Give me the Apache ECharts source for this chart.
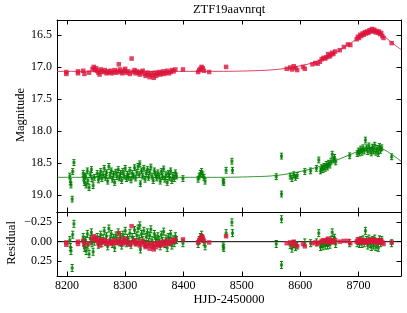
<!DOCTYPE html>
<html><head><meta charset="utf-8">
<script src="https://cdn.jsdelivr.net/npm/echarts@6/dist/echarts.min.js"></script>
<style>html,body{margin:0;padding:0;background:#fff}#c{width:407px;height:313px}</style>
</head><body><div id="c"></div>
<script>
// ---- data ----
const title = 'ZTF19aavnrqt';
const xName = 'HJD-2450000';
const yNameTop = 'Magnitude';
const yNameRes = 'Residual';
const xTicks = [8200, 8300, 8400, 8500, 8600, 8700];
const magTicks = [16.5, 17.0, 17.5, 18.0, 18.5, 19.0];
const resTicks = [-0.25, 0.00, 0.25];

// r band (red)
const rT = [8199,8199,8219,8219,8228,8230,8238,8244,8246,8248,8250,8252,8254,8256,8258,8260,8263,8265,8268,8270,8272,8275,8277,8280,8282,8285,8288,8289,8291,8293,8295,8298,8300,8302,8305,8308,8311,8313,8316,8318,8320,8323,8325,8328,8330,8333,8335,8338,8340,8342,8345,8347,8349,8351,8353,8355,8358,8360,8362,8365,8367,8370,8372,8375,8378,8380,8383,8386,8399,8425,8427,8429,8431,8433,8435,8444,8473,
  8577,8583,8586,8589,8592,8595,8605,8608,8621,8626,8630,8634,8637,8640,8643,8645,8648,8650,8652,8655,8657,8660,8668,8675,8682,8686,8697,8699,8701,8703,8705,8707,8709,8711,8713,8715,8717,8719,8721,8723,8725,8727,8729,8731,8733,8735,8737,8739,8741,8743,8757];
const rMag = [17.08,17.11,17.07,17.10,17.06,17.11,17.09,17.03,17.00,17.05,17.02,17.06,17.09,17.12,17.04,17.07,17.08,17.05,17.10,17.07,17.09,17.06,17.10,17.08,17.05,17.09,17.07,16.96,17.04,17.08,17.10,17.06,17.03,17.09,17.07,17.11,16.87,17.08,17.05,17.10,17.07,17.09,17.12,17.08,17.06,17.11,17.14,17.09,17.12,17.16,17.10,17.13,17.17,17.09,17.14,17.11,17.08,17.12,17.10,17.07,17.11,17.09,17.06,17.10,17.08,17.05,17.07,17.04,17.04,17.08,17.05,17.03,17.00,17.02,17.06,17.08,17.00,
  17.03,17.01,17.04,16.99,17.02,17.05,17.00,17.03,16.96,16.94,16.95,16.92,16.88,16.86,16.87,16.85,16.80,16.84,16.82,16.78,16.80,16.76,16.74,16.69,16.65,16.66,16.57,16.53,16.55,16.50,16.52,16.48,16.50,16.46,16.48,16.45,16.47,16.43,16.45,16.41,16.44,16.42,16.46,16.44,16.47,16.45,16.49,16.47,16.52,16.55,16.63];
const rRes = [0.01,0.04,0.00,0.03,-0.01,0.04,0.02,-0.04,-0.07,-0.02,-0.05,-0.01,0.02,0.05,-0.03,0.00,0.01,-0.02,0.03,0.00,0.02,-0.01,0.03,0.01,-0.02,0.02,0.00,-0.11,-0.03,0.01,0.03,-0.01,-0.04,0.02,0.00,0.04,-0.20,0.01,-0.02,0.03,0.00,0.02,0.05,0.01,-0.01,0.04,0.07,0.02,0.05,0.09,0.03,0.06,0.10,0.02,0.07,0.04,0.01,0.05,0.03,0.00,0.04,0.02,-0.01,0.03,0.01,-0.02,0.00,-0.03,-0.03,0.01,-0.02,-0.04,-0.07,-0.05,-0.01,0.01,-0.07,
  0.02,0.01,0.04,0.00,0.03,0.06,0.03,0.06,0.02,0.01,0.03,0.01,-0.01,-0.02,0.00,-0.01,-0.04,0.01,0.00,-0.02,0.01,-0.02,0.00,-0.01,-0.01,0.02,0.00,-0.03,0.01,-0.03,0.01,-0.02,0.01,-0.02,0.01,-0.01,0.01,-0.02,0.00,-0.03,0.00,-0.02,0.01,-0.01,0.01,-0.02,0.01,-0.02,0.01,0.03,0.01];

// g band (green)
const gT = [8205,8206,8207,8209,8210,8212,8228,8229,8230,8232,8233,8235,8236,8238,8240,8242,8243,8245,8247,8252,8254,8256,8258,8260,8262,8264,8266,8268,8270,8272,8274,8276,8278,8280,8282,8284,8286,8288,8290,8292,8294,8296,8298,8300,8302,8304,8306,8308,8310,8312,8314,8316,8318,8320,8322,8324,8325,8326,8328,8330,8332,8334,8336,8338,8340,8342,8344,8346,8348,8350,8352,8354,8356,8358,8360,8362,8364,8366,8368,8370,8372,8374,8376,8378,8380,8382,8384,8386,8388,8399,8425,8427,8429,8431,8433,8435,8437,8468,8469,8473,8483,8484,
  8559,8568,8568,8583,8586,8589,8592,8595,8608,8618,8628,8632,8635,8637,8639,8641,8643,8645,8647,8649,8651,8653,8655,8657,8659,8661,8685,8698,8700,8702,8704,8706,8708,8710,8712,8714,8716,8718,8720,8722,8724,8726,8728,8730,8732,8734,8736,8738,8740,8757];
const gMag = [18.70,18.79,18.84,19.06,18.63,18.49,18.66,18.73,18.80,18.70,18.84,18.62,18.77,18.88,18.68,18.60,18.74,18.85,18.72,18.66,18.76,18.70,18.63,18.74,18.68,18.58,18.72,18.65,18.78,18.55,18.69,18.62,18.75,18.67,18.80,18.64,18.71,18.60,18.73,18.66,18.77,18.63,18.70,18.58,18.74,18.67,18.72,18.61,18.76,18.66,18.70,18.57,18.73,18.64,18.55,18.68,18.51,18.82,18.62,18.70,18.58,18.75,18.66,18.60,18.72,18.64,18.56,18.70,18.77,18.62,18.68,18.73,18.65,18.70,18.78,18.63,18.71,18.59,18.75,18.68,18.80,18.66,18.72,18.62,18.77,18.69,18.74,18.65,18.70,18.74,18.75,18.70,18.66,18.63,18.68,18.72,18.78,18.78,18.80,18.61,18.47,18.61,
  18.71,18.39,18.98,18.70,18.74,18.68,18.72,18.69,18.63,18.62,18.58,18.45,18.62,18.57,18.60,18.55,18.58,18.52,18.56,18.50,18.53,18.47,18.36,18.45,18.41,18.48,18.385,18.35,18.31,18.34,18.28,18.33,18.26,18.31,18.14,18.26,18.32,18.23,18.30,18.34,18.25,18.31,18.22,18.33,18.27,18.35,18.24,18.30,18.26,18.40];
const gRes = [-0.02,0.07,0.12,0.34,-0.09,-0.23,-0.06,0.01,0.08,-0.02,0.12,-0.10,0.05,0.16,-0.04,-0.12,0.02,0.13,0.00,-0.06,0.04,-0.02,-0.09,0.02,-0.04,-0.14,0.00,-0.07,0.06,-0.17,-0.03,-0.10,0.03,-0.05,0.08,-0.08,-0.01,-0.12,0.01,-0.06,0.05,-0.09,-0.02,-0.14,0.02,-0.05,0.00,-0.11,0.04,-0.06,-0.02,-0.15,0.01,-0.08,-0.17,-0.04,-0.21,0.10,-0.10,-0.02,-0.14,0.03,-0.06,-0.12,0.00,-0.08,-0.16,-0.02,0.05,-0.10,-0.04,0.01,-0.07,-0.02,0.06,-0.09,-0.01,-0.13,0.03,-0.04,0.08,-0.06,0.00,-0.10,0.05,-0.03,0.02,-0.07,-0.02,0.02,0.03,-0.02,-0.06,-0.09,-0.04,0.00,0.06,0.06,0.08,-0.11,-0.25,-0.11,
  0.03,-0.29,0.30,0.045,0.09,0.03,0.07,0.05,0.01,0.02,0.01,-0.11,0.07,0.03,0.06,0.02,0.05,0.00,0.05,0.00,0.04,-0.02,-0.12,-0.02,-0.05,0.03,0.02,0.02,-0.01,0.03,-0.02,0.03,-0.03,0.02,-0.14,-0.02,0.05,-0.04,0.03,0.07,-0.02,0.05,-0.04,0.07,0.01,0.08,-0.03,0.02,-0.02,0.02];
const gErr = 0.045;

// fitted model curves
const rModelT = [8183,8300,8450,8520,8560,8590,8620,8650,8680,8700,8715,8725,8735,8745,8760,8773];
const rModelMag = [17.07,17.07,17.07,17.06,17.04,17.00,16.94,16.83,16.67,16.55,16.47,16.44,16.46,16.53,16.64,16.73];
const gModelT = [8183,8300,8450,8520,8560,8600,8630,8655,8685,8705,8725,8740,8755,8773];
const gModelMag = [18.72,18.72,18.72,18.71,18.69,18.63,18.56,18.48,18.37,18.30,18.27,18.28,18.35,18.47];

// ---- chart ----
const RED = '#DC143C', GREEN = '#008000';
const FONT = 'Liberation Serif';
const xMin = 8183, xMax = 8773;
const pair = (a, b) => a.map((v, i) => [v, b[i]]);
const errData = (t, y) => t.map((v, i) => [v, y[i], gErr]);

function errRender(params, api) {
  const x = api.value(0), y = api.value(1), e = api.value(2);
  const lo = api.coord([x, y - e]), hi = api.coord([x, y + e]);
  const cw = 1.6;
  const st = {stroke: GREEN, lineWidth: 1};
  return {type: 'group', children: [
    {type: 'line', shape: {x1: lo[0], y1: lo[1], x2: hi[0], y2: hi[1]}, style: st},
    {type: 'line', shape: {x1: lo[0]-cw, y1: lo[1], x2: lo[0]+cw, y2: lo[1]}, style: st},
    {type: 'line', shape: {x1: hi[0]-cw, y1: hi[1], x2: hi[0]+cw, y2: hi[1]}, style: st}
  ]};
}

const axLine = {show: true, onZero: false, lineStyle: {color: '#000', width: 1}};
const tick = (vals) => ({show: true, inside: true, length: 4.5, customValues: vals, lineStyle: {color: '#000', width: 1}});
function xAx(grid, pos, labels) {
  return {type: 'value', gridIndex: grid, position: pos, min: xMin, max: xMax,
    axisLine: axLine, axisTick: tick(xTicks), splitLine: {show: false},
    axisLabel: labels ? {show: true, customValues: xTicks, margin: 4, color: '#000', fontFamily: FONT, fontSize: 12, formatter: v => String(v)} : {show: false}};
}
function yAx(grid, pos, min, max, ticks, labels, fmt) {
  return {type: 'value', gridIndex: grid, position: pos, min: min, max: max, inverse: true,
    axisLine: axLine, axisTick: tick(ticks), splitLine: {show: false},
    axisLabel: labels ? {show: true, customValues: ticks, margin: 5, color: '#000', fontFamily: FONT, fontSize: 12, formatter: fmt} : {show: false}};
}
const magFmt = v => Number(v).toFixed(1);
const resFmt = v => { const s = Math.abs(v).toFixed(2); return v < -1e-9 ? '\u2212' + s : s; };

const option = {
  animation: false,
  grid: [
    {left: 57, right: 6, top: 20, height: 192},
    {left: 57, right: 6, top: 212, height: 64}
  ],
  xAxis: [xAx(0, 'bottom', false), xAx(0, 'top', false), xAx(1, 'bottom', true), xAx(1, 'top', false)],
  yAxis: [
    yAx(0, 'left', 16.27, 19.26, magTicks, true, magFmt),
    yAx(0, 'right', 16.27, 19.26, magTicks, false),
    yAx(1, 'left', -0.383, 0.443, resTicks, true, resFmt),
    yAx(1, 'right', -0.383, 0.443, resTicks, false)
  ],
  graphic: [
    {type: 'text', x: 229, y: 10, style: {text: title, font: '12.5px ' + FONT, fill: '#000', align: 'center', verticalAlign: 'middle'}},
    {type: 'text', x: 229, y: 300, style: {text: xName, font: '12.5px ' + FONT, fill: '#000', align: 'center', verticalAlign: 'middle'}},
    {type: 'text', x: 20.5, y: 115, rotation: Math.PI / 2, style: {text: yNameTop, font: '12.5px ' + FONT, fill: '#000', align: 'center', verticalAlign: 'middle'}},
    {type: 'text', x: 12, y: 243, rotation: Math.PI / 2, style: {text: yNameRes, font: '12.5px ' + FONT, fill: '#000', align: 'center', verticalAlign: 'middle'}}
  ],
  series: [
    {type: 'line', xAxisIndex: 0, yAxisIndex: 0, data: pair(rModelT, rModelMag), smooth: 0.4, showSymbol: false,
      lineStyle: {color: RED, width: 1, opacity: 0.8}, z: 1},
    {type: 'line', xAxisIndex: 0, yAxisIndex: 0, data: pair(gModelT, gModelMag), smooth: 0.4, showSymbol: false,
      lineStyle: {color: GREEN, width: 1, opacity: 0.8}, z: 1},
    {type: 'scatter', xAxisIndex: 0, yAxisIndex: 0, data: pair(rT, rMag), symbol: 'rect', symbolSize: 4.5,
      itemStyle: {color: RED}, z: 3},
    {type: 'custom', xAxisIndex: 0, yAxisIndex: 0, data: errData(gT, gMag), renderItem: errRender, z: 2},
    {type: 'scatter', xAxisIndex: 0, yAxisIndex: 0, data: pair(gT, gMag), symbol: 'rect', symbolSize: 3,
      itemStyle: {color: GREEN}, z: 3},
    {type: 'line', xAxisIndex: 2, yAxisIndex: 2, data: [[xMin, 0], [xMax, 0]], showSymbol: false,
      lineStyle: {color: '#000', width: 1}, z: 1},
    {type: 'custom', xAxisIndex: 2, yAxisIndex: 2, data: errData(gT, gRes), renderItem: errRender, z: 2},
    {type: 'scatter', xAxisIndex: 2, yAxisIndex: 2, data: pair(gT, gRes), symbol: 'rect', symbolSize: 3,
      itemStyle: {color: GREEN}, z: 3},
    {type: 'scatter', xAxisIndex: 2, yAxisIndex: 2, data: pair(rT, rRes), symbol: 'rect', symbolSize: 4.5,
      itemStyle: {color: RED}, z: 4}
  ]
};
echarts.init(document.getElementById('c'), null, {renderer: 'canvas'}).setOption(option);
</script></body></html>
